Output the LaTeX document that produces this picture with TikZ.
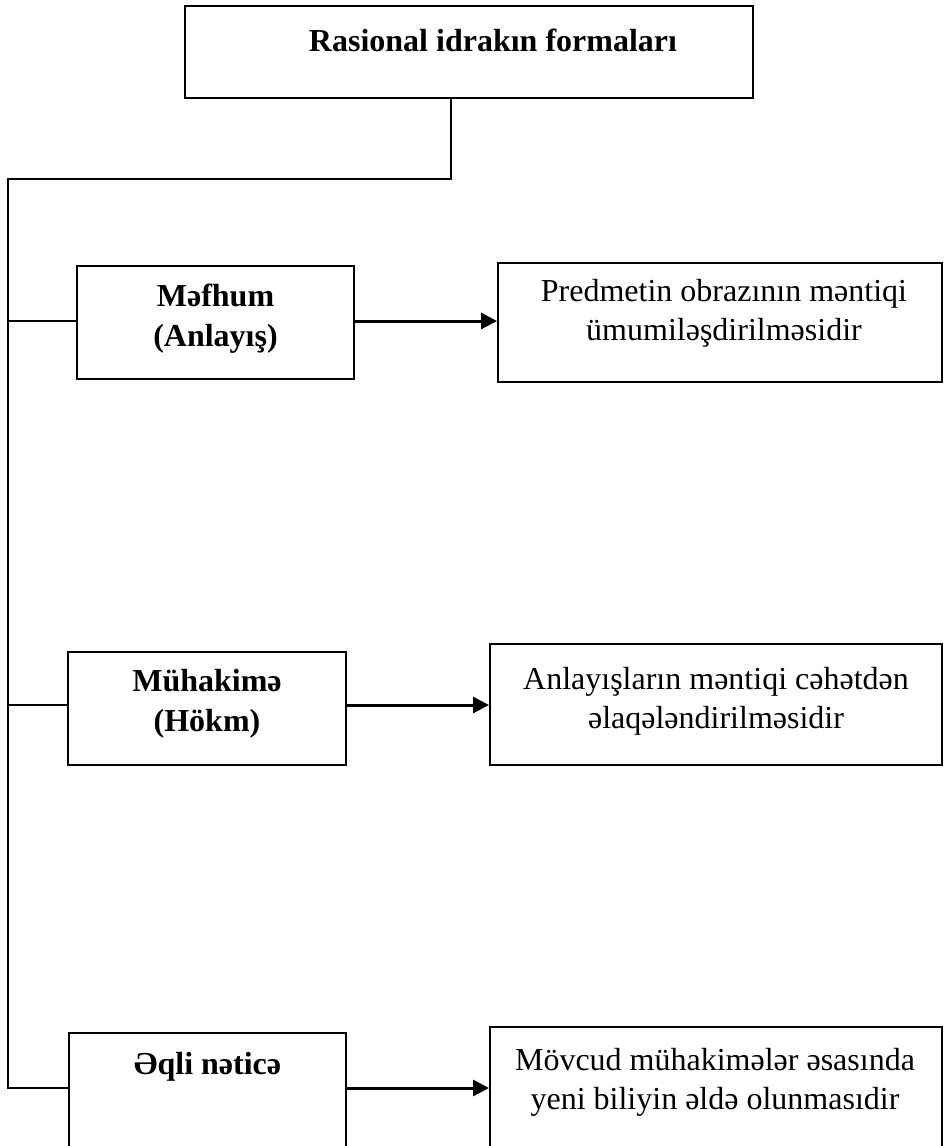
\documentclass[tikz,border=0pt]{standalone}
\usepackage{fontspec}
\setmainfont{Liberation Serif}
\usetikzlibrary{arrows.meta}
\begin{document}
\begin{tikzpicture}[x=1pt,y=-1pt,
  box/.style={draw, line width=2pt, inner sep=0pt},
  conn/.style={line width=1.6pt},
  arr/.style={line width=3pt, -{Triangle[length=16pt,width=16pt]}},
  lbl/.style={align=center, inner sep=0pt, font=\fontsize{32}{39}\selectfont},
  blbl/.style={align=center, inner sep=0pt, font=\fontsize{32}{40}\selectfont\bfseries},
]
\useasboundingbox (0,0) rectangle (945,1146);
\clip (0,0) rectangle (945,1146);

% boxes
\node[box, minimum width=568pt, minimum height=92pt] (top) at (469,52) {};
\node[blbl] (ttop) at (493,40) {Rasional idrakın formaları};

\node[box, minimum width=277pt, minimum height=113pt] (b1) at (215.5,322.5) {};
\node[blbl] (tb1) at (215.5,319) {Məfhum\\(Anlayış)};
\node[box, minimum width=444pt, minimum height=119pt] (r1) at (720,322.5) {};
\node[lbl] (tr1) at (724,313) {Predmetin obrazının məntiqi\\ümumiləşdirilməsidir};

\node[box, minimum width=278pt, minimum height=113pt] (b2) at (207,708.5) {};
\node[blbl] (tb2) at (207,704) {Mühakimə\\(Hökm)};
\node[box, minimum width=452pt, minimum height=121pt] (r2) at (716,704.5) {};
\node[lbl] (tr2) at (716,701) {Anlayışların məntiqi cəhətdən\\əlaqələndirilməsidir};

\node[box, minimum width=277pt, minimum height=127pt] (b3) at (207.5,1096.5) {};
\node[blbl] (tb3) at (207.5,1067) {Əqli nəticə};
\node[box, minimum width=452pt, minimum height=133pt] (r3) at (716,1093.5) {};
\node[lbl] (tr3) at (715,1082) {Mövcud mühakimələr əsasında\\yeni biliyin əldə olunmasıdir};

% connectors
\coordinate (j0) at (451,179);
\coordinate (corner) at (8,179);
\coordinate (h1) at (0,321);
\coordinate (h2) at (0,705);
\coordinate (h3) at (0,1088);

\draw[conn] (top.south -| j0) -- (j0) -- (corner) -- (corner |- h3) -- (b3.west |- h3);
\draw[conn] (corner |- h1) -- (b1.west |- h1);
\draw[conn] (corner |- h2) -- (b2.west |- h2);

\draw[arr] (b1.east |- h1) -- (r1.west |- h1);
\draw[arr] (b2.east |- h2) -- (r2.west |- h2);
\draw[arr] (b3.east |- h3) -- (r3.west |- h3);
\end{tikzpicture}
\end{document}
